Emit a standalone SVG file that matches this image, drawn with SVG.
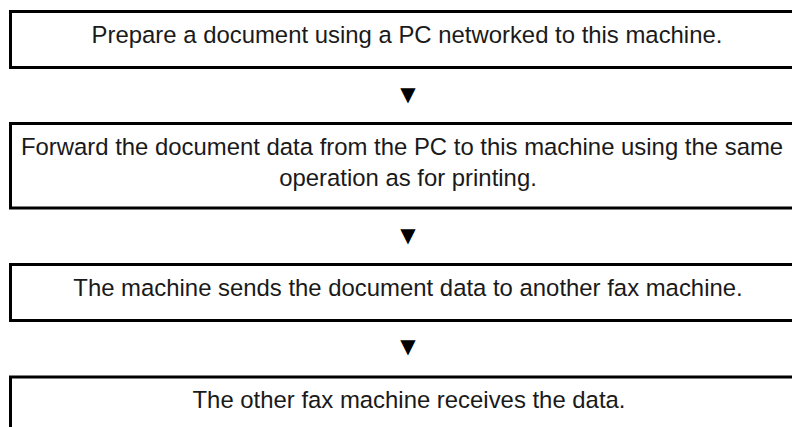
<svg xmlns="http://www.w3.org/2000/svg" width="792" height="427" viewBox="0 0 792 427">
<style>
.box{fill:#fff;stroke:#000;stroke-width:3}
.t{font-family:"Liberation Sans",Arial,sans-serif;font-size:23.9px;fill:#1a1a1a;text-anchor:middle}
.arr{font-family:"DejaVu Sans",sans-serif;font-size:20px;fill:#000;text-anchor:middle}
</style>
<rect width="792" height="427" fill="#fff"/>
<g id="step1">
<rect class="box" x="10.5" y="11.5" width="800" height="56"/>
<text class="t" x="407" y="42.5">Prepare a document using a PC networked to this machine.</text>
</g>
<g id="step2">
<rect class="box" x="10.5" y="123.5" width="800" height="84.5"/>
<text class="t" x="402" y="155">Forward the document data from the PC to this machine using the same</text>
<text class="t" x="408" y="186">operation as for printing.</text>
</g>
<g id="step3">
<rect class="box" x="10.5" y="264.5" width="800" height="56"/>
<text class="t" x="408" y="296">The machine sends the document data to another fax machine.</text>
</g>
<g id="step4">
<rect class="box" x="10.5" y="377" width="800" height="80"/>
<text class="t" x="409" y="408">The other fax machine receives the data.</text>
</g>
<g id="connectors">
<text class="arr" x="408" y="101">▼</text>
<text class="arr" x="408" y="242">▼</text>
<text class="arr" x="408" y="353">▼</text>
</g>
</svg>
